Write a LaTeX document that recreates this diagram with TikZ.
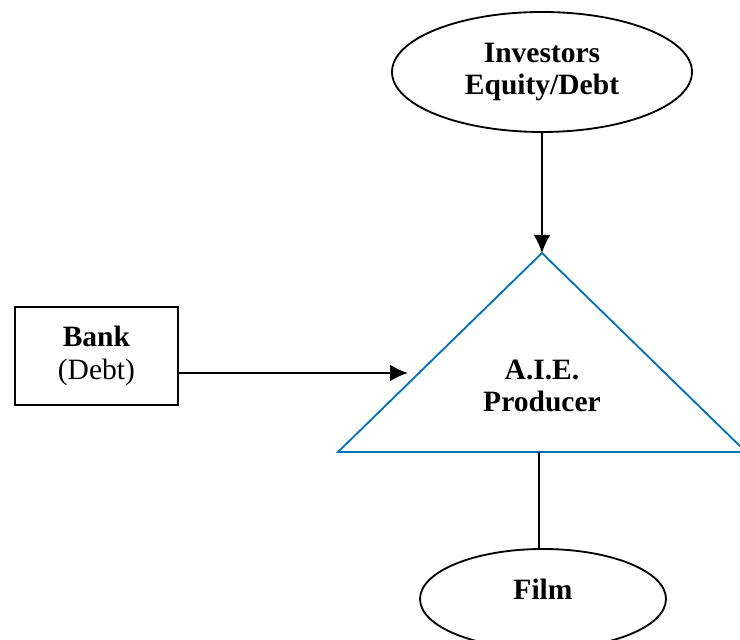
\documentclass[tikz,border=0pt]{standalone}
\usepackage{fontspec}
\setmainfont{Liberation Serif}
\usepackage{tikz}
\usetikzlibrary{shapes.geometric,arrows.meta}
\definecolor{prodblue}{RGB}{0,112,192}
\tikzset{
	oval/.style={draw, ellipse, line width=1.3pt, inner sep=0pt, align=center},
	box/.style={draw, rectangle, line width=1.3pt, inner sep=0pt, align=center},
	flow/.style={line width=1.3pt, -{Latex[length=0.45cm,width=0.42cm]}}
}

\begin{document}
\begin{tikzpicture}[font=\fontsize{21}{23}\selectfont]
	\useasboundingbox (0,0) rectangle (18.5,16);
	% funding sources
	\node[oval, minimum width=7.5cm, minimum height=3cm] (investors) at (13.55,14.2) {\textbf{Investors}\\ \textbf{Equity/Debt}};
	\node[box, minimum width=4.075cm, minimum height=2.45cm] (bank) at (2.41,7.1) {\textbf{Bank}\\ (Debt)};
	% producer triangle
	\coordinate (apex) at (13.55,9.675);
	\coordinate (baseL) at (8.45,4.7);
	\coordinate (baseR) at (18.65,4.7);
	\draw [prodblue, line width=1.3pt] (baseL) -- (apex) -- (baseR) -- cycle;
	\node[font=\fontsize{21}{23}\selectfont\bfseries, align=center] (producer) at (13.55,6.35) {A.I.E.\\ Producer};
	\coordinate (prodin) at (10.2,6.675);
	% output
	\node[oval, minimum width=6.15cm, minimum height=2.5cm] (film) at (13.575,1.025) {};
	\node[font=\fontsize{21}{23}\selectfont\bfseries] (filmtext) at (13.575,1.275) {Film};
	\coordinate (prodbase) at (13.475,4.7);
	% connectors
	\draw [flow] (investors.south) -- (apex);
	\draw [flow] ([yshift=-0.425cm]bank.east) -- (prodin);
	\draw [line width=1.3pt] (prodbase) -- (prodbase |- film.north);
\end{tikzpicture}
\end{document}
